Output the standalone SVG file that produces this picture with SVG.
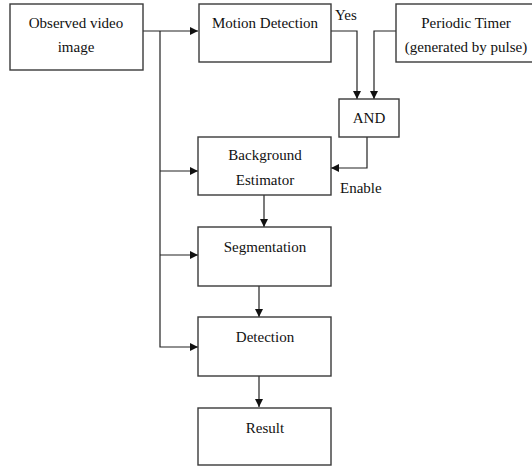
<svg xmlns="http://www.w3.org/2000/svg" width="532" height="466" viewBox="0 0 532 466">
<style>
.box{fill:#fff;stroke:#3a3a3a;stroke-width:1.4}
.ln{fill:none;stroke:#222;stroke-width:1.2}
.c{text-anchor:middle}
</style>
<defs>
<marker id="ah" viewBox="0 0 10 10" refX="10" refY="5" markerWidth="8" markerHeight="8" markerUnits="userSpaceOnUse" orient="auto">
<path d="M0,0 L10,5 L0,10 z" fill="#111"/>
</marker>
</defs>
<rect width="532" height="466" fill="#fff"/>
<g id="connectors">
<path class="ln" d="M143,31 H198" marker-end="url(#ah)"/>
<path class="ln" d="M160,31 V347 H198" marker-end="url(#ah)"/>
<path class="ln" d="M160,171 H198" marker-end="url(#ah)"/>
<path class="ln" d="M160,255 H198" marker-end="url(#ah)"/>
<path class="ln" d="M331,31 H357 V99" marker-end="url(#ah)"/>
<path class="ln" d="M396,31 H374 V99" marker-end="url(#ah)"/>
<path class="ln" d="M367,137 V168 H331" marker-end="url(#ah)"/>
<path class="ln" d="M264,195 V227" marker-end="url(#ah)"/>
<path class="ln" d="M259,286 V317" marker-end="url(#ah)"/>
<path class="ln" d="M259,376 V407" marker-end="url(#ah)"/>
<text font-family="Liberation Serif" font-size="15" fill="#111" x="335" y="20">Yes</text>
<text font-family="Liberation Serif" font-size="15" fill="#111" x="340" y="193">Enable</text>
</g>
<g id="observed">
<rect class="box" x="10" y="4" width="133" height="66"/>
<text font-family="Liberation Serif" font-size="15" fill="#111" class="c" x="76" y="28">Observed video</text>
<text font-family="Liberation Serif" font-size="15" fill="#111" class="c" x="76" y="52">image</text>
</g>
<g id="motion">
<rect class="box" x="199" y="4" width="132" height="58"/>
<text font-family="Liberation Serif" font-size="15" fill="#111" class="c" x="265" y="28">Motion Detection</text>
</g>
<g id="timer">
<rect class="box" x="396" y="4" width="140" height="58"/>
<text font-family="Liberation Serif" font-size="15" fill="#111" class="c" x="466" y="28">Periodic Timer</text>
<text font-family="Liberation Serif" font-size="15" fill="#111" class="c" x="466" y="52">(generated by pulse)</text>
</g>
<g id="and">
<rect class="box" x="339" y="99" width="60" height="38"/>
<text font-family="Liberation Serif" font-size="15" fill="#111" class="c" x="369" y="123">AND</text>
</g>
<g id="background">
<rect class="box" x="198" y="137" width="133" height="58"/>
<text font-family="Liberation Serif" font-size="15" fill="#111" class="c" x="265" y="160">Background</text>
<text font-family="Liberation Serif" font-size="15" fill="#111" class="c" x="265" y="185">Estimator</text>
</g>
<g id="segmentation">
<rect class="box" x="198" y="227" width="133" height="59"/>
<text font-family="Liberation Serif" font-size="15" fill="#111" class="c" x="265" y="252">Segmentation</text>
</g>
<g id="detection">
<rect class="box" x="198" y="317" width="133" height="59"/>
<text font-family="Liberation Serif" font-size="15" fill="#111" class="c" x="265" y="342">Detection</text>
</g>
<g id="result">
<rect class="box" x="198" y="408" width="133" height="57"/>
<text font-family="Liberation Serif" font-size="15" fill="#111" class="c" x="265" y="433">Result</text>
</g>
</svg>
